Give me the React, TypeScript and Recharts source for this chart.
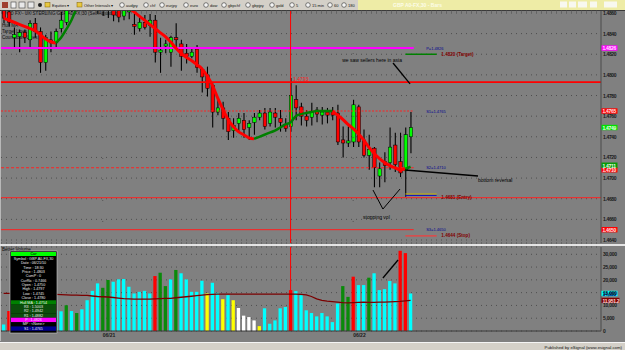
import React from 'react';
import { ComposedChart, Bar, Line, XAxis, YAxis, CartesianGrid, ReferenceLine, ReferenceDot, Cell } from 'recharts';

const FONT = '"Liberation Sans", Arial, Helvetica, sans-serif';

// ---- price data (30 min bars) ----
const opens = [1.4865,1.4861,1.4836,1.4837,1.4841,1.4834,1.4850,1.4842,1.4812,1.4834,
1.4831,1.4845,1.4851,1.4865,1.4876,1.4887,1.4894,1.4887,1.4880,1.4871,
1.4876,1.4868,1.4865,1.4857,1.4861,1.4849,1.4845,1.4851,1.4848,1.4853,
1.4822,1.4828,1.4822,1.4836,1.4830,1.4821,1.4818,1.4825,1.4805,1.4800,
1.4790,1.4764,1.4768,1.4758,1.4746,1.4753,1.4756,1.4749,1.4754,1.4759,
1.4763,1.4753,1.4763,1.4758,1.4752,1.4750,1.4776,1.4769,1.4760,1.4759,
1.4766,1.4761,1.4764,1.4764,1.4763,1.4737,1.4734,1.4735,1.4769,1.4737,
1.4722,1.4729,1.4702,1.4716,1.4715,1.4732,1.4716,1.4707,1.4740];
const highs = [1.4868,1.4865,1.4846,1.4844,1.4844,1.4853,1.4855,1.4846,1.4839,1.4842,
1.4845,1.4861,1.4870,1.4882,1.4892,1.4902,1.4900,1.4892,1.4887,1.4884,
1.4882,1.4875,1.4873,1.4869,1.4873,1.4859,1.4855,1.4858,1.4859,1.4858,
1.4836,1.4834,1.4838,1.4850,1.4834,1.4830,1.4826,1.4829,1.4807,1.4808,
1.4792,1.4776,1.4774,1.4764,1.4758,1.4763,1.4763,1.4756,1.4763,1.4766,
1.4768,1.4768,1.4768,1.4766,1.4758,1.4797,1.4790,1.4773,1.4766,1.4773,
1.4769,1.4769,1.4768,1.4769,1.4771,1.4750,1.4750,1.4776,1.4771,1.4747,
1.4742,1.4730,1.4715,1.4725,1.4749,1.4744,1.4744,1.4749,1.4764];
const lows = [1.4850,1.4847,1.4825,1.4822,1.4831,1.4827,1.4836,1.4802,1.4804,1.4822,
1.4827,1.4841,1.4848,1.4861,1.4871,1.4882,1.4877,1.4870,1.4859,1.4857,
1.4855,1.4852,1.4851,1.4853,1.4854,1.4839,1.4842,1.4844,1.4837,1.4812,
1.4802,1.4821,1.4808,1.4826,1.4804,1.4811,1.4816,1.4802,1.4783,1.4779,
1.4749,1.4761,1.4747,1.4737,1.4739,1.4744,1.4739,1.4737,1.4742,1.4756,
1.4747,1.4750,1.4749,1.4745,1.4745,1.4745,1.4756,1.4751,1.4750,1.4751,
1.4754,1.4752,1.4753,1.4756,1.4732,1.4720,1.4730,1.4730,1.4730,1.4720,
1.4708,1.4691,1.4691,1.4696,1.4708,1.4706,1.4701,1.4682,1.4724];
const closes = [1.4855,1.4851,1.4839,1.4841,1.4836,1.4850,1.4842,1.4812,1.4836,1.4831,
1.4842,1.4853,1.4865,1.4877,1.4887,1.4897,1.4884,1.4877,1.4871,1.4878,
1.4867,1.4858,1.4856,1.4863,1.4865,1.4847,1.4851,1.4846,1.4853,1.4822,
1.4824,1.4830,1.4836,1.4834,1.4818,1.4818,1.4822,1.4807,1.4798,1.4787,
1.4764,1.4768,1.4758,1.4745,1.4751,1.4758,1.4747,1.4753,1.4759,1.4763,
1.4750,1.4764,1.4759,1.4754,1.4748,1.4780,1.4768,1.4760,1.4756,1.4764,
1.4762,1.4764,1.4761,1.4761,1.4735,1.4734,1.4736,1.4771,1.4735,1.4722,
1.4728,1.4710,1.4709,1.4712,1.4730,1.4713,1.4705,1.4742,1.4749];
const hullMA = [1.4855,1.4853,1.4851,1.4849,1.4847,1.4845,1.4843,1.4839,1.4835,1.4832,
1.4831,1.4836,1.4844,1.4853,1.4865,1.4876,1.4882,1.4887,1.4889,1.4887,
1.4884,1.4880,1.4876,1.4870,1.4865,1.4861,1.4857,1.4853,1.4849,1.4845,
1.4841,1.4837,1.4832,1.4826,1.4821,1.4817,1.4814,1.4810,1.4806,1.4799,
1.4790,1.4778,1.4767,1.4757,1.4750,1.4745,1.4742,1.4739,1.4738,1.4740,
1.4742,1.4744,1.4746,1.4749,1.4752,1.4754,1.4760,1.4762,1.4763,1.4764,
1.4765,1.4765,1.4765,1.4765,1.4761,1.4757,1.4752,1.4748,1.4743,1.4737,
1.4730,1.4724,1.4719,1.4715,1.4712,1.4710,1.4708,1.4709,1.4711];
// colour of the Hull MA segment that ends at each bar (r = falling, g = rising)
const hullDir = 'rrrrrrrrrrr' + 'gggggggg' + 'rrrrrrrrrrrrrrrrrrrrrrrrrrrrrr' + 'ggggggggggggggg' + 'rrrrrrrrrrrrrr' + 'g';

// ---- volume data ----
const volumes = [2570,7800,9000,8000,10000,12000,9000,15000,11000,10000,
8000,7700,10070,7800,7030,8490,12040,15700,18630,16900,
19940,19270,20200,20330,17300,14680,15320,15700,14680,21500,
22800,17570,20200,23880,22580,20200,15320,15320,19660,14680,
18870,14920,12440,14010,12040,9000,6000,5450,4150,1900,
8880,2840,4150,8880,9400,16000,15600,14010,8100,7030,
5720,7030,5720,3480,10730,17570,13350,21250,17960,17960,
20860,22580,16000,16380,19540,18630,31380,30470,14680];
const volColors = 'crccgccrcc' + 'ccgcgccccg' + 'gccccccccr' + 'ggcgcccccy' + 'ccycywwwwy' +
  'cccccrcccc' + 'cccccggrcc' + 'gcccccrrc';
const volMA = [14700,14700,14650,14600,14600,14550,14500,14450,14400,14350,
14300,14200,14100,14000,14000,13950,13900,13700,13500,13400,
13300,13100,12900,12700,12600,12500,12450,12450,12500,12600,
12700,12750,12800,13000,13200,13400,13600,13800,14000,14200,
14300,14400,14400,14400,14400,14400,14400,14400,14400,14400,
14400,14400,14450,14450,14450,14450,14400,14300,14100,13500,
12600,12000,11700,11500,11300,11100,11000,11100,11200,11300,
11200,11200,11300,11300,11400,11500,11600,11800,11951.2];

// ---- axes ----
const priceTicks = [1.464, 1.466, 1.468, 1.470, 1.472, 1.474, 1.476, 1.478, 1.480, 1.482, 1.484, 1.486];
const volTicks = [0, 5000, 10000, 15000, 20000, 25000, 30000];
const dayTicks = [19, 67];
const dayLabels = ['06/21', '06/22'];
const crossBar = 55;

// ---- levels ----
const pivot = 1.4826;
const target = 1.4820;
const asiaHigh = 1.4793;
const s1 = 1.4765;
const s2 = 1.4710;
const entry = 1.4681;
const s3 = 1.4650;
const stop = 1.4644;

const VCOL: Record<string, string> = { c: '#00ffff', g: '#0a8a0a', r: '#ff0000', y: '#ffff00', w: '#ffffff' };

const candleData = opens.map((o, i) => ({
  i,
  open: o,
  high: highs[i],
  low: lows[i],
  close: closes[i],
  maRed: hullDir[i] === 'r' || hullDir[i + 1] === 'r' ? hullMA[i] : null,
  maGreen: hullDir[i] === 'g' || hullDir[i + 1] === 'g' ? hullMA[i] : null,
}));
const volData = volumes.map((v, i) => ({ i, vol: v, vma: volMA[i] }));

const infoRows: { t: string; bg?: string }[] = [
  { t: 'Symbol : GBP A0-FX,30' },
  { t: 'Date : 06/21/10' },
  { t: 'Time : 18:30' },
  { t: 'Price : 1.4803' },
  { t: 'CumP : 0' },
  { t: 'CurRic : 0.7466' },
  { t: 'Open : 1.4750' },
  { t: 'High : 1.4797' },
  { t: 'Low : 1.4745' },
  { t: 'Close : 1.4780' },
  { t: 'Hull MA : 1.4754', bg: '#008000' },
  { t: 'R3 : 1.5003', bg: '#0b4d0b' },
  { t: 'R2 : 1.4942', bg: '#0b4d0b' },
  { t: 'R1 : 1.4882', bg: '#0b4d0b' },
  { t: 'P : 1.4826', bg: '#ff00ff' },
  { t: 'MP : <None>' },
  { t: 'S1 : 1.4765', bg: '#000090' },
];

const toolItems = [
  { t: 'Equities', x: 52, f: true }, { t: 'Other Intervals', x: 84, f: true },
  { t: 'audjpy', x: 126 }, { t: 'chf', x: 150 }, { t: 'eurjpy', x: 166 }, { t: 'euro', x: 190 },
  { t: 'dow', x: 210 }, { t: 'gbpchf', x: 228 }, { t: 'gbpjpy', x: 252 }, { t: 'gold', x: 276 },
  { t: '5', x: 296 }, { t: '15 min', x: 312 }, { t: '60', x: 334 }, { t: '180', x: 348 },
];

function Candle(props: any) {
  const { x, y, width, height, payload } = props;
  if (!payload || !isFinite(y) || !isFinite(height)) return <g />;
  const top = Math.min(y, y + height);
  const h = Math.abs(height);
  const cx = x + width / 2;
  const span = payload.high - payload.low;
  const k = span > 0 ? h / span : 0;
  const yAt = (v: number) => top + (payload.high - v) * k;
  const up = payload.close >= payload.open;
  const b1 = yAt(Math.max(payload.open, payload.close));
  const b2 = yAt(Math.min(payload.open, payload.close));
  return (
    <g>
      <line x1={cx} x2={cx} y1={top} y2={top + h} stroke="#000" strokeWidth={1.1} />
      <rect x={cx - 1.7} y={b1} width={3.4} height={Math.max(b2 - b1, 0.9)} fill={up ? '#00ff00' : '#ff0000'} stroke="#000" strokeWidth={0.5} />
    </g>
  );
}

const note = (text: string, color: string, size: number, weight: string = 'normal') => (p: any) => (
  <text x={p.cx} y={p.cy} fill={color} fontSize={size} fontWeight={weight} fontFamily={FONT} dominantBaseline="central">{text}</text>
);

const tag = (text: string, bg: string, fg: string, w = 16, dy = 0) => (p: any) => (
  <g>
    <rect x={p.cx + 1} y={p.cy - 2.7 + dy} width={w} height={5.4} fill={bg} />
    <text x={p.cx + 2} y={p.cy + 0.3 + dy} fill={fg} fontSize={5} fontWeight="bold" fontFamily={FONT} letterSpacing={-0.3} dominantBaseline="central">{text}</text>
  </g>
);

const PriceTick = (p: any) => (
  <text x={p.x} y={p.y} fill="#1a1a1a" fontSize={5} fontWeight="bold" fontFamily={FONT} letterSpacing={-0.35} dominantBaseline="central">
    {Number(p.payload.value).toFixed(4)}
  </text>
);
const VolTick = (p: any) => (
  <text x={p.x} y={p.y} fill="#1a1a1a" fontSize={5} fontWeight="bold" fontFamily={FONT} letterSpacing={-0.25} dominantBaseline="central">
    {Number(p.payload.value).toLocaleString('en-US')}
  </text>
);
const DayTick = (p: any) => {
  const idx = dayTicks.indexOf(p.payload.value);
  if (idx < 0) return <g />;
  return (
    <text x={p.x} y={p.y + 3.5} fill="#1a1a1a" fontSize={5} fontWeight="bold" fontFamily={FONT} dominantBaseline="central">{dayLabels[idx]}</text>
  );
};

const seg = (x1: number, y1: number, x2: number, y2: number) => [{ x: x1, y: y1 }, { x: x2, y: y2 }] as any;

function PriceChart() {
  return (
    <ComposedChart width={625} height={234} data={candleData} margin={{ top: 1, right: 0, bottom: 1, left: 1 }}>
      <CartesianGrid vertical={false} stroke="#4e4e4e" strokeDasharray="1 4" />
      <XAxis type="number" dataKey="i" domain={[-0.5, 114.5]} hide allowDataOverflow />
      <YAxis orientation="right" width={24} domain={[1.46371, 1.48619]} allowDataOverflow ticks={priceTicks} interval={0}
        tickLine={false} tickSize={0} tickMargin={2} axisLine={{ stroke: '#4a4a4a' }} tick={PriceTick} />
      <ReferenceLine x={dayTicks[0]} stroke="#555" strokeDasharray="1 20" />
      <ReferenceLine x={dayTicks[1]} stroke="#555" strokeDasharray="1 20" />
      <ReferenceLine segment={seg(-0.49, pivot, 78.6, pivot)} stroke="#ff00ff" strokeWidth={2} />
      <ReferenceLine y={asiaHigh} stroke="#ff0000" strokeWidth={1.6} />
      <ReferenceLine segment={seg(-0.49, s1, 78.6, s1)} stroke="#ff2020" strokeWidth={1.2} strokeDasharray="2 1.5" />
      <ReferenceLine segment={seg(-0.49, s2, 78.6, s2)} stroke="#ff2020" strokeWidth={1.2} strokeDasharray="3 2" />
      <ReferenceLine y={entry} stroke="#ff2020" strokeWidth={1} />
      <ReferenceLine segment={seg(-0.49, s3, 78.6, s3)} stroke="#ff2020" strokeWidth={1} />
      <ReferenceLine segment={seg(77, target, 83, target)} stroke="#008000" strokeWidth={1.5} />
      <ReferenceLine segment={seg(77, entry + 0.00036, 83, entry + 0.00036)} stroke="#c8b400" strokeWidth={1} />
      <ReferenceLine segment={seg(77, entry + 0.00022, 83, entry + 0.00022)} stroke="#1010c0" strokeWidth={1} />
      <ReferenceLine segment={seg(77, stop, 83, stop)} stroke="#e04848" strokeWidth={1.5} />
      <ReferenceLine x={crossBar} stroke="#ff0000" strokeWidth={1} />
      <Bar dataKey={(d: any) => [d.low, d.high]} shape={(p: any) => <Candle {...p} />} barSize={4} isAnimationActive={false} />
      <Line dataKey="maRed" type="monotone" stroke="#ff0000" strokeWidth={3} dot={false} activeDot={false} connectNulls={false} isAnimationActive={false} />
      <Line dataKey="maGreen" type="monotone" stroke="#008000" strokeWidth={2.5} dot={false} activeDot={false} connectNulls={false} isAnimationActive={false} />
      {/* annotations */}
      <ReferenceLine segment={seg(74.64, 1.48115, 77.9, 1.47912)} stroke="#000" strokeWidth={1.3} />
      <ReferenceLine segment={seg(76.94, 1.47078, 90.93, 1.4702)} stroke="#000" strokeWidth={1.4} />
      <ReferenceLine segment={seg(70.8, 1.46884, 72.7, 1.467)} stroke="#000" strokeWidth={1} />
      <ReferenceLine segment={seg(75.98, 1.46894, 72.7, 1.467)} stroke="#000" strokeWidth={1} />
      <ReferenceDot x={81} y={pivot} r={0} shape={note('P=1.4826', '#000090', 4)} />
      <ReferenceDot x={83.9} y={target} r={0} shape={note('1.4820 (Target)', '#800000', 4.6, 'bold')} />
      <ReferenceDot x={55.5} y={1.4796} r={0} shape={note('1.4793', '#ff2020', 5)} />
      <ReferenceDot x={64.9} y={1.48144} r={0} shape={note('we saw sellers here in asia', '#000', 5)} />
      <ReferenceDot x={81} y={s1} r={0} shape={note('S1=1.4765', '#000090', 4)} />
      <ReferenceDot x={81} y={s2} r={0} shape={note('S2=1.4710', '#000090', 4)} />
      <ReferenceDot x={90.93} y={1.46982} r={0} shape={note('bottom reversal', '#000', 5)} />
      <ReferenceDot x={83.9} y={entry} r={0} shape={note('1.4681 (Entry)', '#800000', 4.6, 'bold')} />
      <ReferenceDot x={68.9} y={1.46623} r={0} shape={note('stopping vol', '#000', 5)} />
      <ReferenceDot x={81} y={s3} r={0} shape={note('S3=1.4650', '#000090', 4)} />
      <ReferenceDot x={83.9} y={stop} r={0} shape={note('1.4644 (Stop)', '#800000', 4.6, 'bold')} />
      {/* axis tags */}
      <ReferenceDot x={114.4} y={pivot} r={0} shape={tag(pivot.toFixed(4), '#ff00ff', '#ffe0ff')} />
      <ReferenceDot x={114.4} y={s1} r={0} shape={tag(s1.toFixed(4), '#ff0000', '#ffe0e0')} />
      <ReferenceDot x={114.4} y={closes[closes.length - 1]} r={0} shape={tag(closes[closes.length - 1].toFixed(4), '#00e000', '#e8ffe8')} />
      <ReferenceDot x={114.4} y={s2} r={0} shape={tag(s2.toFixed(4), '#ff0000', '#ffe0e0', 16, 2)} />
      <ReferenceDot x={114.4} y={hullMA[hullMA.length - 1]} r={0} shape={tag(hullMA[hullMA.length - 1].toFixed(4), '#089a08', '#e8ffe8', 16, -1.5)} />
      <ReferenceDot x={114.4} y={s3} r={0} shape={tag(s3.toFixed(4), '#ff0000', '#ffe0e0')} />
    </ComposedChart>
  );
}

function VolumeChart() {
  const lastV = volumes[volumes.length - 1];
  const lastM = volMA[volMA.length - 1];
  return (
    <ComposedChart width={625} height={95} data={volData} margin={{ top: 1, right: 0, bottom: 0, left: 1 }}>
      <CartesianGrid vertical={false} stroke="#4e4e4e" strokeDasharray="1 4" />
      <XAxis type="number" dataKey="i" domain={[-0.5, 114.5]} ticks={dayTicks} interval={0} allowDataOverflow height={10}
        tickLine={false} tickSize={0} tickMargin={0} axisLine={{ stroke: '#3a3a3a', strokeWidth: 1.2 }} tick={DayTick} />
      <YAxis orientation="right" width={24} domain={[0, 32860]} allowDataOverflow ticks={volTicks} interval={0}
        tickLine={false} tickSize={0} tickMargin={2} axisLine={{ stroke: '#4a4a4a' }} tick={VolTick} />
      <ReferenceLine x={crossBar} stroke="#ff0000" strokeWidth={1} />
      <Bar dataKey="vol" barSize={3.3} isAnimationActive={false}>
        {volData.map((d, i) => <Cell key={i} fill={VCOL[volColors[i]]} />)}
      </Bar>
      <Line dataKey="vma" type="linear" stroke="#7a0000" strokeWidth={1.3} dot={false} activeDot={false} isAnimationActive={false} />
      <ReferenceLine segment={seg(72.7, 20734, 75.6, 27775)} stroke="#000" strokeWidth={1.3} />
      <ReferenceDot x={114.4} y={lastV} r={0} shape={tag(lastV.toLocaleString('en-US'), '#00ffff', '#000080')} />
      <ReferenceDot x={114.4} y={lastM} r={0} shape={tag(lastM.toLocaleString('en-US', { minimumFractionDigits: 1 }), '#800000', '#ffd8d8', 18)} />
    </ComposedChart>
  );
}

export default function App() {
  return (
    <div style={{ position: 'absolute', left: 0, top: 0, width: 625, height: 350, overflow: 'hidden', background: '#808080', fontFamily: FONT }}>
      {/* toolbar + title backgrounds */}
      <div style={{ position: 'absolute', left: 0, top: 0, width: 358, height: 10, background: '#d4d0c8' }} />
      <div style={{ position: 'absolute', left: 358, top: 0, width: 267, height: 10, background: '#eeeca6' }} />
      <div style={{ position: 'absolute', left: 0, top: 10, width: 625, height: 1, background: '#3a3a3a' }} />
      <div style={{ position: 'absolute', left: 0, top: 11, width: 1, height: 330, background: '#b8b8b8' }} />
      {/* legend text under the chart */}
      <svg width={625} height={350} style={{ position: 'absolute', left: 0, top: 0 }}>
        <rect x={2} y={11.5} width={3} height={3} fill="#202060" />
        <text x={7} y={13.4} fontSize={4.6} fill="#101010" fontFamily={FONT} dominantBaseline="central">AO FX - UK STERLING  GBP A0-FX,30 (Self Adjusting)</text>
        <text x={2} y={25} fontSize={4.6} fill="#101010" fontFamily={FONT} dominantBaseline="central">Hull MA</text>
        <text x={2} y={31} fontSize={4.6} fill="#101010" fontFamily={FONT} dominantBaseline="central">Target Lines</text>
        <text x={2} y={37} fontSize={4.6} fill="#101010" fontFamily={FONT} dominantBaseline="central">Countdown Lines</text>
        <text x={2} y={249.5} fontSize={4.6} fill="#101010" fontFamily={FONT} dominantBaseline="central">Better Volume</text>
      </svg>
      <div style={{ position: 'absolute', left: 0, top: 10 }}>
        <PriceChart />
      </div>
      <div style={{ position: 'absolute', left: 0, top: 244, width: 625, height: 1.8, background: '#e4e4e4' }} />
      <div style={{ position: 'absolute', left: 0, top: 246 }}>
        <VolumeChart />
      </div>
      <div style={{ position: 'absolute', left: 0, top: 341.5, width: 625, height: 9, background: '#d4d0c8', borderTop: '1.5px solid #f4f4f4' }} />
      {/* overlay: toolbar text, info box, footer */}
      <svg width={625} height={350} style={{ position: 'absolute', left: 0, top: 0, pointerEvents: 'none' }}>
        <rect x={2} y={2} width={6} height={6} fill="#a04030" />
        <rect x={11} y={2} width={5} height={6} fill="#f0f0f0" stroke="#404040" strokeWidth={0.6} />
        <rect x={19} y={2} width={6} height={6} fill="#e8e8e8" stroke="#404040" strokeWidth={0.6} />
        <rect x={28} y={2} width={6} height={6} fill="#e8e8e8" stroke="#404040" strokeWidth={0.6} />
        <circle cx={40} cy={5} r={2} fill="#202020" />
        {toolItems.map((it, k) => (
          <g key={k}>
            {it.f ? (
              <rect x={it.x - 7} y={2.5} width={5} height={4.5} fill="#e8c840" stroke="#806000" strokeWidth={0.5} />
            ) : (
              <circle cx={it.x - 4} cy={5} r={2.3} fill="#f4f4f4" stroke="#303030" strokeWidth={0.6} />
            )}
            <text x={it.x} y={5.3} fontSize={4} fill="#101010" fontFamily={FONT} dominantBaseline="central">{it.t + (it.f ? ' ▾' : '')}</text>
          </g>
        ))}
        <text x={393} y={4.8} fontSize={5} fontWeight="bold" fill="#fcfce8" fontFamily={FONT} dominantBaseline="central">GBP A0-FX,30 - Bars</text>
        <rect x={560} y={1.5} width={7} height={6} fill="#f8f8f0" />
        <rect x={569} y={1.5} width={7} height={6} fill="#f8f8f0" />
        <rect x={578} y={1.5} width={9} height={6} fill="#f8f8f0" />
        <rect x={590} y={1.5} width={7} height={6} fill="#f8f8f0" />
        <rect x={604} y={1.5} width={13} height={6} fill="#f8f8f0" />
        {/* info box */}
        <rect x={10} y={251} width={47} height={82} fill="#000" stroke="#c8c8c8" strokeWidth={0.6} />
        <rect x={11} y={252} width={45} height={4} fill="#00ff00" />
        <text x={33.5} y={254.2} fontSize={3.6} fontWeight="bold" fill="#004000" fontFamily={FONT} textAnchor="middle" dominantBaseline="central">Cur</text>
        {infoRows.map((r, k) => (
          <g key={k}>
            {r.bg ? <rect x={11} y={256.8 + k * 4.35} width={45} height={4.35} fill={r.bg} /> : null}
            <text x={33.5} y={259 + k * 4.35} fontSize={3.7} fill="#ececec" fontFamily={FONT} textAnchor="middle" dominantBaseline="central">{r.t}</text>
          </g>
        ))}
        <text x={622} y={347} fontSize={4.3} fill="#101010" fontFamily={FONT} textAnchor="end" dominantBaseline="central">Published by eSignal (www.esignal.com)</text>
      </svg>
    </div>
  );
}
